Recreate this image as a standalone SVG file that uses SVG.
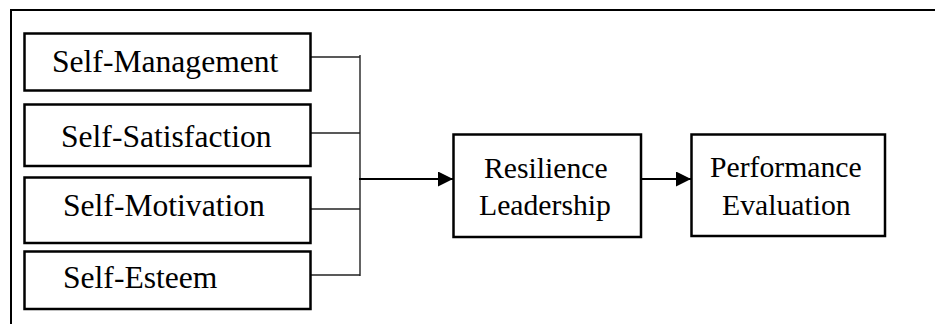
<svg xmlns="http://www.w3.org/2000/svg" width="935" height="324" viewBox="0 0 935 324">
<style>
.box{fill:#fff;stroke:#000;stroke-width:2.5}
.t{font-family:"Liberation Serif","Times New Roman",serif;fill:#000}
.l{font-size:31.6px}
.r{font-size:29.7px}
.thin{stroke:#222;stroke-width:1.4;fill:none}
.arr{stroke:#000;stroke-width:2.2;fill:none}
</style>
<defs>
<marker id="ah" viewBox="0 0 15 15" refX="15" refY="7.5" markerWidth="15" markerHeight="15" markerUnits="userSpaceOnUse" orient="auto">
<path d="M0,0 L15,7.5 L0,15 z" fill="#000"/>
</marker>
</defs>
<g id="frame">
<path d="M11,324 V10 H935" fill="none" stroke="#000" stroke-width="2"/>
</g>
<g id="connectors">
<line class="thin" x1="311" y1="57" x2="360" y2="57"/>
<line class="thin" x1="311" y1="133" x2="360" y2="133"/>
<line class="thin" x1="311" y1="209" x2="360" y2="209"/>
<line class="thin" x1="311" y1="275" x2="360" y2="275"/>
<line class="thin" x1="360" y1="55" x2="360" y2="276"/>
<line class="arr" x1="359" y1="179" x2="453" y2="179" marker-end="url(#ah)"/>
<line class="arr" x1="641" y1="179" x2="691" y2="179" marker-end="url(#ah)"/>
</g>
<g id="self-management">
<rect class="box" x="24.5" y="33.5" width="286" height="57"/>
<text class="t l" x="52" y="72">Self-Management</text>
</g>
<g id="self-satisfaction">
<rect class="box" x="24.5" y="104.5" width="286" height="61.5"/>
<text class="t l" x="61" y="147">Self-Satisfaction</text>
</g>
<g id="self-motivation">
<rect class="box" x="24.5" y="177.5" width="286" height="65.5"/>
<text class="t l" x="63" y="216">Self-Motivation</text>
</g>
<g id="self-esteem">
<rect class="box" x="24.5" y="251.5" width="286" height="57.5"/>
<text class="t l" x="63" y="288">Self-Esteem</text>
</g>
<g id="resilience-leadership">
<rect class="box" x="453.5" y="134.5" width="187.5" height="102.5"/>
<text class="t r" x="484" y="178">Resilience</text>
<text class="t r" x="479" y="215">Leadership</text>
</g>
<g id="performance-evaluation">
<rect class="box" x="691.5" y="134.5" width="193.5" height="101.5"/>
<text class="t r" x="710" y="177">Performance</text>
<text class="t r" x="722" y="215">Evaluation</text>
</g>
</svg>
